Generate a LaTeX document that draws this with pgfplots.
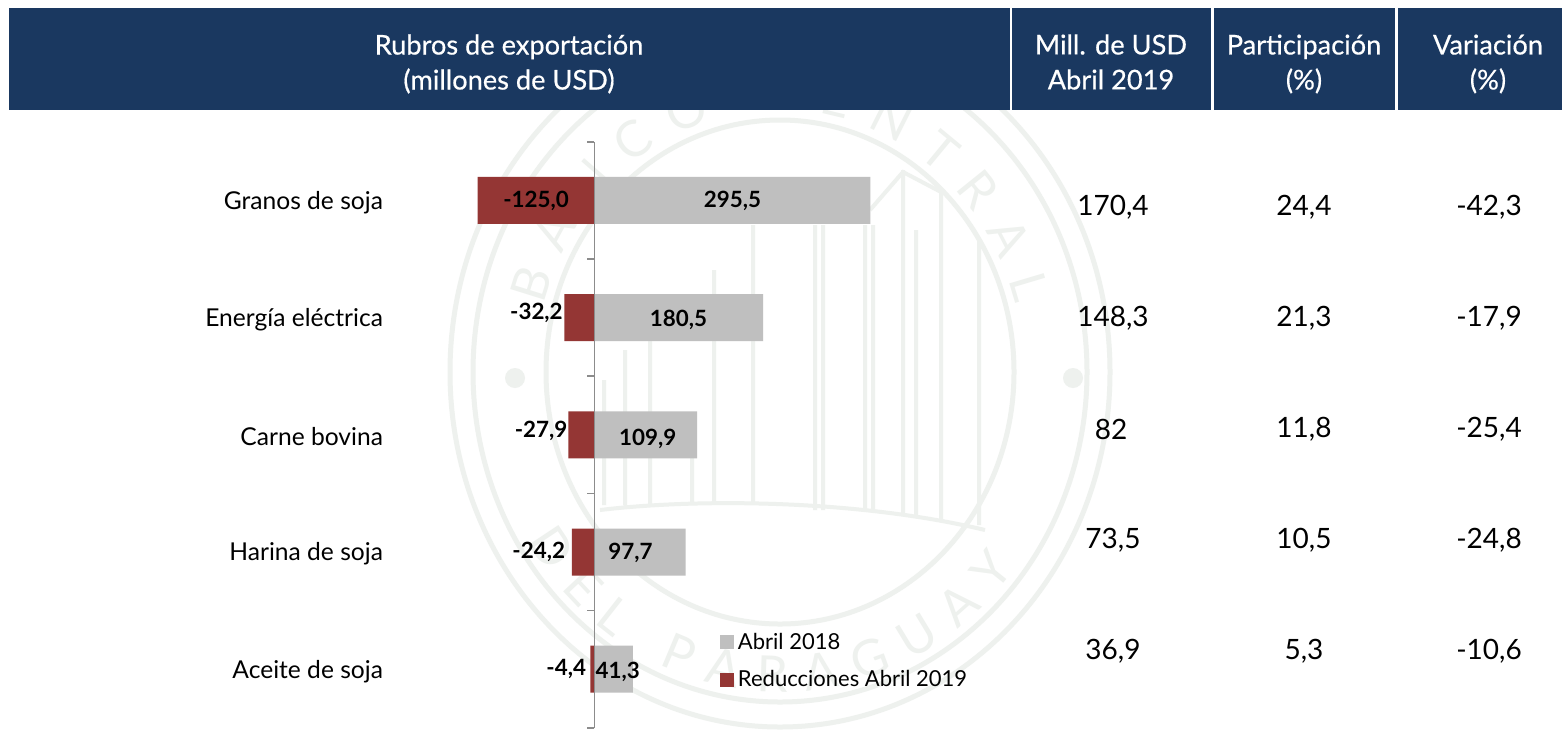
\documentclass[border=0pt]{standalone}
\usepackage{fontspec}
\setmainfont{Lato}
\newfontfamily\hdrf[FakeBold=0.5]{Lato}
\usepackage{pgfplots}
\pgfplotsset{compat=1.18}
\usepackage{pgfplotstable}
\usetikzlibrary{decorations.text}
\definecolor{hdr}{HTML}{1A3860}
\definecolor{redb}{HTML}{943634}
\definecolor{grayb}{HTML}{BFBFBF}
\definecolor{axg}{HTML}{8C8C8C}
\definecolor{wm}{HTML}{EEF1EE}
\newcommand{\fs}[1]{\fontsize{#1}{#1}\selectfont}
\pgfplotstableread{
y v
0 295.5
1 180.5
2 109.9
3 97.7
4 41.3
}\abrilA
\pgfplotstableread{
y v
0 -125.0
1 -32.2
2 -27.9
3 -24.2
4 -4.4
}\reduc
\begin{document}
\begin{tikzpicture}[x=0.5pt,y=-0.5pt]
\fill[white] (0,0) rectangle (1562,729);
% watermark seal
\begin{scope}[wm,line width=2.5pt]
\draw (780,372) ellipse [x radius=165pt,y radius=177.5pt];
\draw (780,372) ellipse [x radius=153.5pt,y radius=165pt];
\draw (780,372) ellipse [x radius=117pt,y radius=126pt];
\fill (515,378) circle (5pt);
\fill (1073,378) circle (5pt);
\draw[line width=2pt] (604,505)--(604,380) (625,505)--(625,350) (650,505)--(650,330)
 (692,505)--(692,440) (714,505)--(714,270) (753,505)--(753,225)
 (815,510)--(815,225) (823,510)--(823,225) (865,510)--(865,225) (873,510)--(873,225)
 (903,515)--(903,170) (916,515)--(916,230) (941,520)--(941,190) (979,525)--(979,240)
 (870,210)--(903,172)--(941,192)
 (600,510) .. controls (700,498) and (860,500) .. (985,530);
\end{scope}
\path[decorate,decoration={text along path,text align={fit to path},
  text={|\color{wm}\fs{25}|BANCO CENTRAL}}]
  (780,372) ++(165:122pt and 131pt) arc[start angle=165,end angle=15,x radius=122pt,y radius=131pt];
\path[decorate,decoration={text along path,text align={fit to path},
  text={|\color{wm}\fs{25}|DEL PARAGUAY}}]
  (780,372) ++(212:149pt and 160pt) arc[start angle=212,end angle=322,x radius=149pt,y radius=160pt];
% header
\fill[hdr] (9,8) rectangle (1010,110);
\fill[hdr] (1012,8) rectangle (1211,110);
\fill[hdr] (1214,8) rectangle (1395,110);
\fill[hdr] (1398,8) rectangle (1562,110);
\begin{scope}[every node/.style={text=white,align=center,inner sep=0pt,font=\hdrf\fontsize{13.6}{17.5}\selectfont}]
\node at (509,64) {Rubros de exportación\\(millones de USD)};
\node at (1111,62) {Mill. de USD\\Abril 2019};
\node at (1304,64) {Participación\\(\%)};
\node at (1488,64) {Variación\\(\%)};
\end{scope}
% table values
\begin{scope}[every node/.style={text=black,inner sep=0pt,font=\fs{14}}]
\node at (1113,207) {170,4}; \node at (1304,207) {24,4}; \node at (1489,207) {-42,3};
\node at (1113,318) {148,3}; \node at (1304,318) {21,3}; \node at (1489,318) {-17,9};
\node at (1111,429) {82};    \node at (1304,429) {11,8}; \node at (1489,429) {-25,4};
\node at (1113,540) {73,5};  \node at (1304,540) {10,5}; \node at (1489,540) {-24,8};
\node at (1113,651) {36,9};  \node at (1304,651) {5,3};  \node at (1489,651) {-10,6};
\end{scope}
\begin{axis}[
  at={(418,121)},anchor=north west,
  scale only axis,width=305pt,height=293pt,
  xmin=-218.4,xmax=434.7,
  ymin=-0.5,ymax=4.5,y dir=reverse,
  axis x line=none,
  axis y line*=left,
  y axis line style={draw=none},
  ytick={0,1,2,3,4},
  yticklabels={Granos de soja,Energía eléctrica,Carne bovina,Harina de soja,Aceite de soja},
  yticklabel style={font=\fs{12.3},inner sep=0pt,text=black,xshift=-3.5pt,yshift=-1pt},
  tick style={draw=none},
  major tick length=0pt,
  tick label style={/pgf/number format/assume math mode=true},
  clip=false,
  xbar,bar width=23.5pt,bar shift=0pt,
  legend cell align=left,
  legend style={at={(axis cs:134,3.652)},anchor=north west,draw=none,fill=none,
    font=\fs{11},inner sep=0pt,row sep=5pt,
    /tikz/every even column/.append style={column sep=2pt}},
]
\addplot[fill=grayb,draw=none,
  legend image code/.code={\fill[grayb] (0pt,-3.5pt) rectangle (7pt,3.5pt);}]
  table[x=v,y=y]{\abrilA};
\addlegendentry{Abril 2018}
\addplot[fill=redb,draw=none,
  legend image code/.code={\fill[redb] (0pt,-3.5pt) rectangle (7pt,3.5pt);}]
  table[x=v,y=y]{\reduc};
\addlegendentry{Reducciones Abril 2019}
\draw[axg,line width=0.8pt] (axis cs:0,-0.5)--(axis cs:0,4.5);
\foreach \t in {-0.5,0.5,1.5,2.5,3.5,4.5}{
  \edef\tmp{\noexpand\draw[axg,line width=0.8pt] (axis cs:0,\t)--(axis cs:-7.5,\t);}\tmp
}
\begin{scope}[every node/.style={font=\bfseries\fs{11.2},inner sep=0pt,text=black}]
\node at (axis cs:147.8,0.005) {295,5};
\node at (axis cs:90,1.02) {180,5};
\node at (axis cs:57,2.035) {109,9};
\node at (axis cs:38.7,3.005) {97,7};
\node at (axis cs:25,4.02) {41,3};
\node at (axis cs:-62.5,0.005) {-125,0};
\node[anchor=east] at (axis cs:-33.5,0.96) {-32,2};
\node[anchor=east] at (axis cs:-28.5,1.97) {-27,9};
\node[anchor=east] at (axis cs:-31,3.0) {-24,2};
\node[anchor=east] at (axis cs:-8.5,4.0) {-4,4};
\end{scope}
\end{axis}
\end{tikzpicture}
\end{document}
